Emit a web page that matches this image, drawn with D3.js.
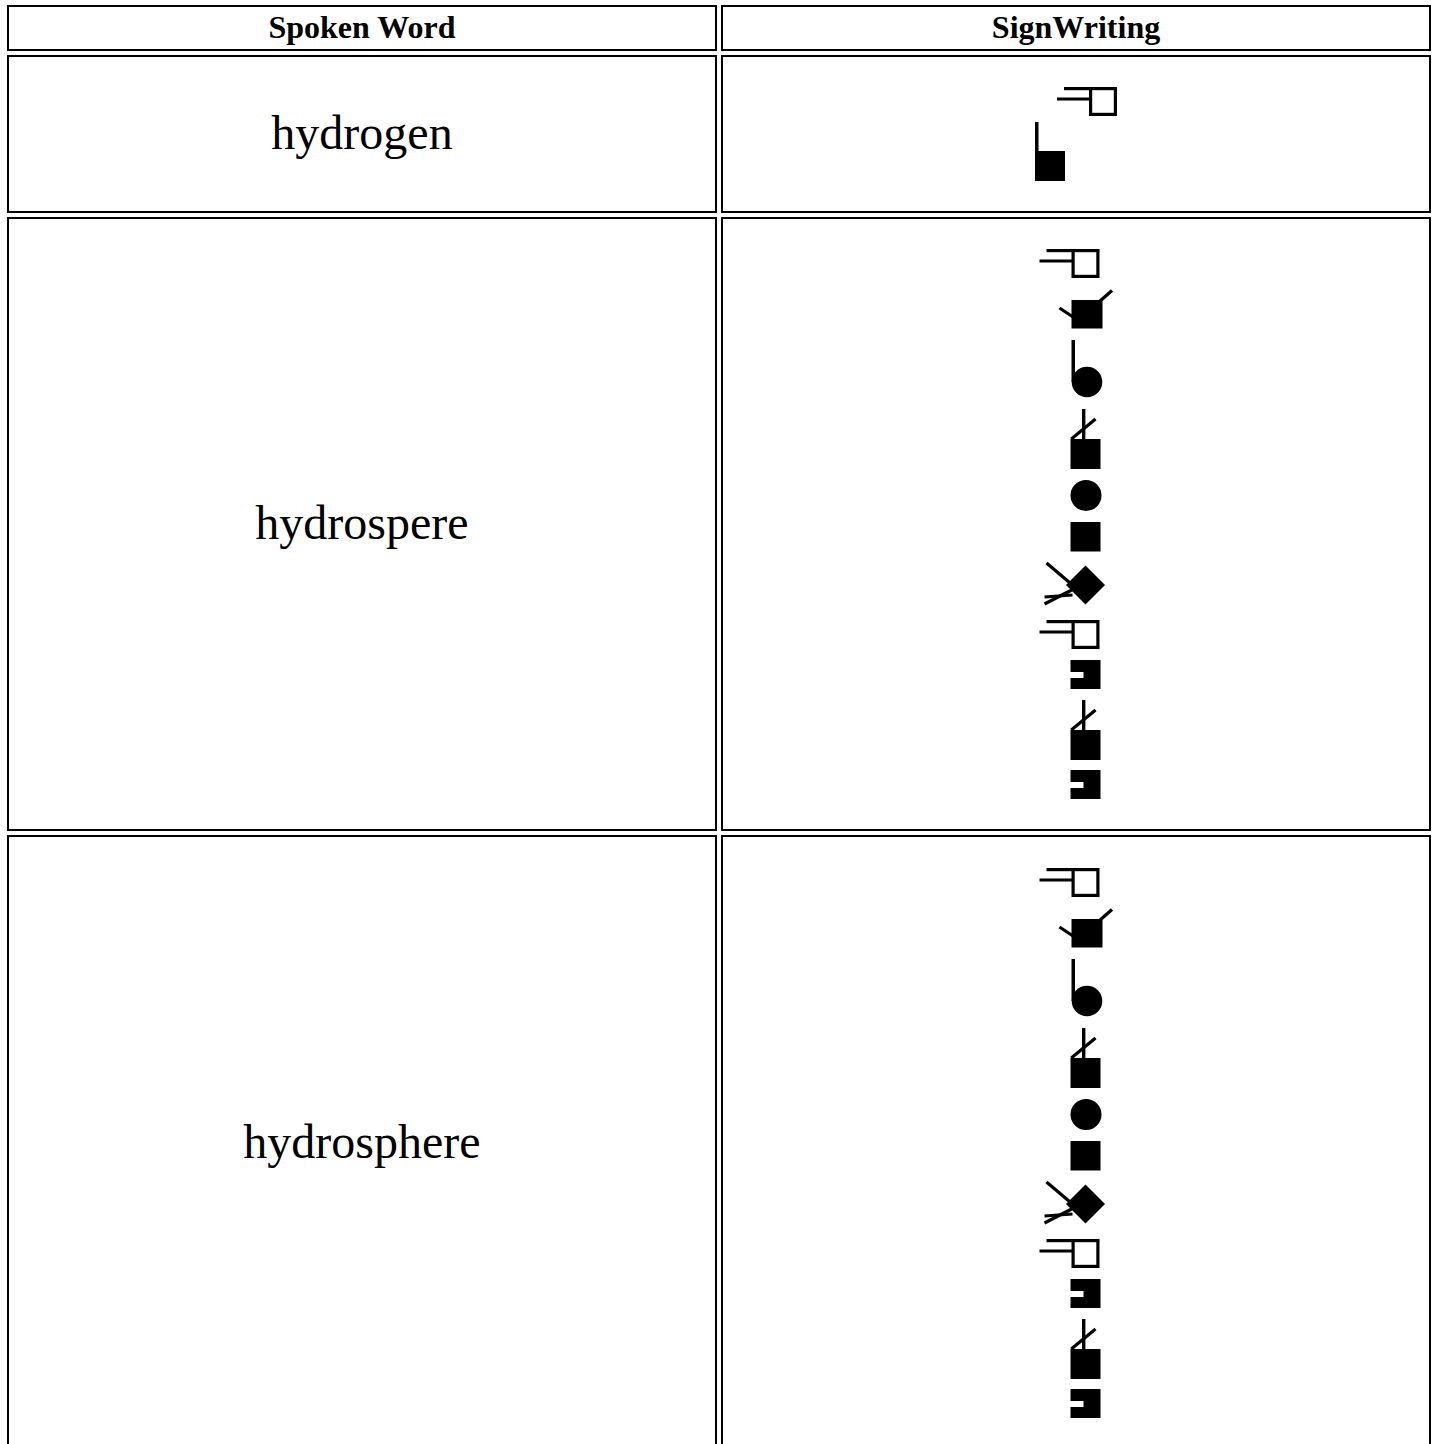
<!DOCTYPE html>
<html>
<head>
<meta charset="utf-8">
<script src="https://cdn.jsdelivr.net/npm/d3@7"></script>
<style>
  html, body { margin: 0; padding: 0; background: #fff; }
  svg { display: block; }
</style>
</head>
<body>
<div id="chart"></div>
<script>
// ---------------- DATA ----------------
const headers = ["Spoken Word", "SignWriting"];
const words = ["hydrogen", "hydrospere", "hydrosphere"];

// SignWriting symbols: [symbol, x, y] in sign coordinate space (FSW-like, around 500)
const hydrogenSign = [
  ["handOpen", 487, 453],
  ["fistStem", 465, 488]
];
const hydrospereSign = [
  ["handOpen", 469, 224],
  ["squareFlicks", 489, 265],
  ["stemCircle", 501, 315],
  ["squareCheck", 500, 384],
  ["circle", 500, 455],
  ["square", 500, 497],
  ["diamondX", 474, 538],
  ["handOpen", 469, 595],
  ["squareNotch", 500, 635],
  ["squareCheck", 500, 675],
  ["squareNotch", 500, 745]
];
const hydrosphereSign = [
  ["handOpen", 469, 224],
  ["squareFlicks", 489, 265],
  ["stemCircle", 501, 315],
  ["squareCheck", 500, 384],
  ["circle", 500, 455],
  ["square", 500, 497],
  ["diamondX", 474, 538],
  ["handOpen", 469, 595],
  ["squareNotch", 500, 635],
  ["squareCheck", 500, 675],
  ["squareNotch", 500, 745]
];
const signs = [hydrogenSign, hydrospereSign, hydrosphereSign];

// ---------------- LAYOUT ----------------
const W = 1437, H = 1444;
const colEdges = [[7, 717], [721, 1431]];
const rowEdges = [[5, 51], [55, 213], [217, 831], [835, 1451]];
const border = 2;

// symbol sizes (width, height) in sign units
const symSize = {
  handOpen: [60, 29], fistStem: [30, 59], squareFlicks: [53, 39],
  stemCircle: [31, 57], squareCheck: [30, 60], circle: [31, 31],
  square: [30, 30], diamondX: [61, 42], squareNotch: [30, 29]
};

const svg = d3.select("#chart").append("svg")
  .attr("width", W).attr("height", H)
  .attr("viewBox", `0 0 ${W} ${H}`);

svg.append("rect").attr("width", W).attr("height", H).attr("fill", "#fff");

// cells
const cells = [];
rowEdges.forEach((r, ri) => colEdges.forEach((c, ci) => cells.push({ r, c, ri, ci })));
svg.append("g").selectAll("rect").data(cells).join("rect")
  .attr("x", d => d.c[0] + border / 2)
  .attr("y", d => d.r[0] + border / 2)
  .attr("width", d => d.c[1] - d.c[0] - border)
  .attr("height", d => d.r[1] - d.r[0] - border)
  .attr("fill", "none").attr("stroke", "#000").attr("stroke-width", border);

const font = "'Liberation Serif', 'Times New Roman', serif";
const cx = ci => (colEdges[ci][0] + colEdges[ci][1]) / 2;
const cy = ri => (rowEdges[ri][0] + rowEdges[ri][1]) / 2;

// header text
svg.append("g").selectAll("text").data(headers).join("text")
  .attr("x", (d, i) => cx(i))
  .attr("y", cy(0) + 0.316 * 32)
  .attr("text-anchor", "middle")
  .attr("font-family", font).attr("font-weight", "bold").attr("font-size", 32)
  .text(d => d);

// words
svg.append("g").selectAll("text").data(words).join("text")
  .attr("x", cx(0))
  .attr("y", (d, i) => cy(i + 1) + 0.316 * 48)
  .attr("text-anchor", "middle")
  .attr("font-family", font).attr("font-size", 48)
  .text(d => d);

// symbol drawing in local coords
function drawSymbol(g, name) {
  const line = (x1, y1, x2, y2) => g.append("line")
    .attr("x1", x1).attr("y1", y1).attr("x2", x2).attr("y2", y2)
    .attr("stroke", "#000").attr("stroke-width", 3.2);
  const rect = (x, y, w, h) => g.append("rect").attr("x", x).attr("y", y)
    .attr("width", w).attr("height", h).attr("fill", "#000");
  const circ = (x, y, r) => g.append("circle").attr("cx", x).attr("cy", y).attr("r", r).attr("fill", "#000");
  switch (name) {
    case "handOpen":
      g.append("rect").attr("x", 33.6).attr("y", 1.6).attr("width", 24.8).attr("height", 25.8)
        .attr("fill", "#fff").attr("stroke", "#000").attr("stroke-width", 3.2);
      line(7, 1.6, 34, 1.6);
      line(0, 12, 34, 12);
      break;
    case "fistStem":
      rect(0, 0, 3.5, 31);
      rect(0, 29, 30, 30);
      break;
    case "squareFlicks":
      line(0, 18, 15, 28);
      line(40, 11.5, 52.5, 0.5);
      rect(12, 10, 31, 28.5);
      break;
    case "stemCircle":
      rect(0, 0, 3.5, 42);
      circ(15.5, 42, 15.3);
      break;
    case "squareCheck":
      rect(11.5, 0, 3.4, 31);
      line(0.8, 30, 25, 10);
      rect(0, 30, 30, 30);
      break;
    case "circle":
      circ(15.5, 15.5, 15.5);
      break;
    case "square":
      rect(0, 0, 30, 29.5);
      break;
    case "diamondX":
      line(2, 0, 35, 28);
      line(0, 41, 33, 24);
      line(0, 34, 28, 32);
      g.append("polygon").attr("points", "41,2.5 60.5,22 41,41.5 21.5,22").attr("fill", "#000");
      break;
    case "squareNotch":
      g.append("path").attr("d", "M0,0H30V29H0V18H13V12H0Z").attr("fill", "#000");
      break;
  }
}

// signs
signs.forEach((sign, si) => {
  const x0 = d3.min(sign, d => d[1]);
  const x1 = d3.max(sign, d => d[1] + symSize[d[0]][0]);
  const y0 = d3.min(sign, d => d[2]);
  const y1 = d3.max(sign, d => d[2] + symSize[d[0]][1]);
  const ccx = cx(1), ccy = cy(si + 1);
  const xs = d3.scaleLinear().domain([x0, x1]).range([ccx - (x1 - x0) / 2, ccx + (x1 - x0) / 2]);
  const ys = d3.scaleLinear().domain([y0, y1]).range([ccy - (y1 - y0) / 2, ccy + (y1 - y0) / 2]);
  const sg = svg.append("g").attr("class", "sign");
  sign.forEach(s => {
    const g = sg.append("g").attr("transform", `translate(${xs(s[1])},${ys(s[2])})`);
    drawSymbol(g, s[0]);
  });
});
</script>
</body>
</html>
